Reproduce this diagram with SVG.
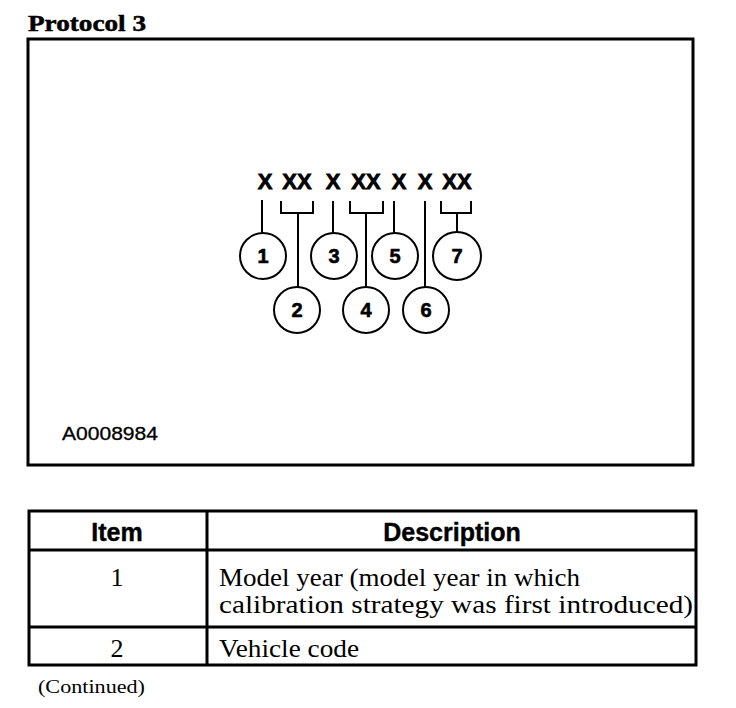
<svg xmlns="http://www.w3.org/2000/svg" width="736" height="708" viewBox="0 0 736 708">
<style>
.frame{fill:none;stroke:#000;stroke-width:3}
.ln{fill:none;stroke:#000;stroke-width:2}
.c{fill:#fff;stroke:#000;stroke-width:2}
.x{font-family:"Liberation Sans",Arial,sans-serif;font-weight:bold;font-size:22px;text-anchor:middle;stroke:#000;stroke-width:0.8}
.n{font-family:"Liberation Sans",Arial,sans-serif;font-weight:bold;font-size:20px;text-anchor:middle;stroke:#000;stroke-width:0.6}
.th{font-family:"Liberation Sans",Arial,sans-serif;font-weight:bold;font-size:25px;text-anchor:middle;stroke:#000;stroke-width:0.4}
.td{font-family:"Liberation Serif","Times New Roman",serif;font-size:26px}
</style>
<rect width="736" height="708" fill="#fff"/>
<text x="28" y="31" font-family="Liberation Serif,'Times New Roman',serif" font-weight="bold" font-size="23" stroke="#000" stroke-width="0.5" textLength="118" lengthAdjust="spacingAndGlyphs">Protocol 3</text>
<rect class="frame" x="28" y="39" width="665" height="426"/>
<g id="code">
<text class="x" x="265" y="189">X</text>
<text class="x" x="297" y="189">XX</text>
<text class="x" x="333" y="189">X</text>
<text class="x" x="366" y="189">XX</text>
<text class="x" x="399" y="189">X</text>
<text class="x" x="425" y="189">X</text>
<text class="x" x="457" y="189">XX</text>
</g>
<g id="connectors">
<path class="ln" d="M262 200V233"/>
<path class="ln" d="M281 201V213H313V201M298 213V287"/>
<path class="ln" d="M333 201V233"/>
<path class="ln" d="M350 201V213H383V201M366 213V287"/>
<path class="ln" d="M394 201V233"/>
<path class="ln" d="M425 201V287"/>
<path class="ln" d="M441 201V213H471V201M457 213V233"/>
</g>
<g id="n1"><circle class="c" cx="263" cy="256" r="23"/><text class="n" x="263" y="263">1</text></g>
<g id="n3"><circle class="c" cx="334" cy="256" r="23"/><text class="n" x="334" y="263">3</text></g>
<g id="n5"><circle class="c" cx="395" cy="256" r="23"/><text class="n" x="395" y="263">5</text></g>
<g id="n7"><circle class="c" cx="457" cy="256" r="24"/><text class="n" x="457" y="263">7</text></g>
<g id="n2"><circle class="c" cx="297" cy="310" r="23"/><text class="n" x="297" y="317">2</text></g>
<g id="n4"><circle class="c" cx="366" cy="310" r="23"/><text class="n" x="366" y="317">4</text></g>
<g id="n6"><circle class="c" cx="426" cy="310" r="23"/><text class="n" x="426" y="317">6</text></g>
<text x="62" y="440" font-family="Liberation Sans,Arial,sans-serif" font-size="18" stroke="#000" stroke-width="0.3" textLength="96" lengthAdjust="spacingAndGlyphs">A0008984</text>
<g id="table">
<rect class="frame" x="29" y="511" width="667" height="154"/>
<path class="frame" d="M207 511V665M29 550H696M29 627H696"/>
<text class="th" x="117" y="541">Item</text>
<text class="th" x="452" y="541">Description</text>
<text class="td" x="117" y="586" text-anchor="middle">1</text>
<text class="td" x="219" y="586" textLength="361" lengthAdjust="spacingAndGlyphs">Model year (model year in which</text>
<text class="td" x="219" y="613" textLength="474" lengthAdjust="spacingAndGlyphs">calibration strategy was first introduced)</text>
<text class="td" x="117" y="657" text-anchor="middle">2</text>
<text class="td" x="219" y="657" textLength="140" lengthAdjust="spacingAndGlyphs">Vehicle code</text>
</g>
<text x="38" y="693" font-family="Liberation Serif,'Times New Roman',serif" font-size="18" textLength="107" lengthAdjust="spacingAndGlyphs">(Continued)</text>
</svg>
